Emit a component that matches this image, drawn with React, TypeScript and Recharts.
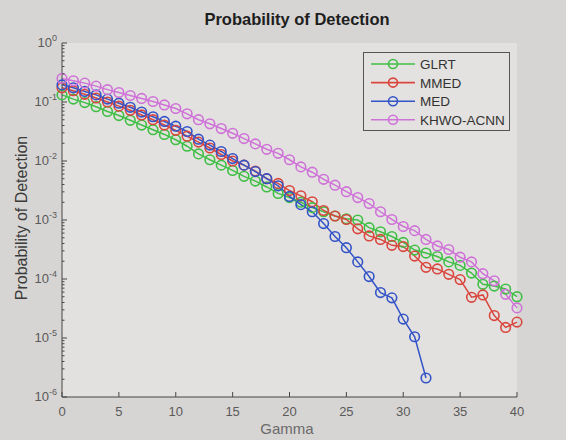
import React from 'react';
import { CartesianGrid, Legend, Line, LineChart, XAxis, YAxis } from 'recharts';

// gamma values 0..40
const gamma = [
  0, 1, 2, 3, 4, 5, 6, 7, 8, 9, 10, 11, 12, 13, 14, 15, 16, 17, 18, 19, 20,
  21, 22, 23, 24, 25, 26, 27, 28, 29, 30, 31, 32, 33, 34, 35, 36, 37, 38, 39, 40
];

const glrt = [
  0.132, 0.112, 0.0977, 0.0832, 0.0692, 0.0589, 0.049, 0.0407, 0.0339, 0.0282, 0.0229,
  0.0178, 0.0132, 0.0105, 0.00851, 0.00692, 0.0055, 0.00457, 0.00363, 0.00282, 0.0024,
  0.002, 0.00162, 0.00138, 0.00117, 0.00105, 0.001, 0.000741, 0.000631, 0.000525, 0.000417,
  0.000309, 0.000275, 0.00024, 0.000195, 0.00017, 0.000126, 0.0000813, 0.0000759, 0.0000676,
  0.0000501
];

const mmed = [
  0.174, 0.155, 0.135, 0.117, 0.1, 0.0851, 0.0724, 0.0603, 0.0501, 0.0407, 0.0331,
  0.0263, 0.0209, 0.0166, 0.0129, 0.01, 0.00851, 0.00676, 0.00501, 0.00417, 0.00316,
  0.00257, 0.00204, 0.00145, 0.00117, 0.00102, 0.000708, 0.000537, 0.000468, 0.000372,
  0.000355, 0.000245, 0.000158, 0.000148, 0.00012, 0.0000977, 0.000049, 0.0000537,
  0.000024, 0.0000151, 0.0000186
];

// MED stops at gamma = 32
const med = [
  0.195, 0.174, 0.151, 0.132, 0.112, 0.0955, 0.0813, 0.0676, 0.0562, 0.0468, 0.0389,
  0.0316, 0.0234, 0.0186, 0.0145, 0.011, 0.00851, 0.00661, 0.00501, 0.0038, 0.00251,
  0.00182, 0.00138, 0.00087, 0.000525, 0.000339, 0.000195, 0.00011, 0.0000589,
  0.0000479, 0.0000209, 0.0000105, 0.0000021
];

const khwo = [
  0.251, 0.229, 0.209, 0.186, 0.162, 0.145, 0.129, 0.115, 0.102, 0.0891, 0.0776,
  0.0631, 0.0501, 0.0427, 0.0355, 0.0295, 0.024, 0.0195, 0.0158, 0.0135, 0.0105,
  0.00794, 0.00646, 0.0049, 0.00389, 0.00302, 0.0024, 0.0019, 0.00138, 0.00102,
  0.000776, 0.00066, 0.000468, 0.000363, 0.000316, 0.000234, 0.000195, 0.000123,
  0.0000933, 0.000055, 0.0000324
];

const xTicks = [0, 5, 10, 15, 20, 25, 30, 35, 40];
const yTicks = [1e-6, 1e-5, 1e-4, 1e-3, 1e-2, 1e-1, 1];
const yTickExps = ['-6', '-5', '-4', '-3', '-2', '-1', '0'];

const series = [
  { key: 'glrt', name: 'GLRT', color: '#3fbf45' },
  { key: 'mmed', name: 'MMED', color: '#d9463d' },
  { key: 'med', name: 'MED', color: '#3354c8' },
  { key: 'khwo', name: 'KHWO-ACNN', color: '#cf72d8' }
];

const data = gamma.map((g, i) => ({
  gamma: g,
  glrt: glrt[i],
  mmed: mmed[i],
  med: i < med.length ? med[i] : null,
  khwo: khwo[i]
}));

// minor ticks 2..9 x 10^k for the log axis
const yAllTicks = yTicks.flatMap((t, i) =>
  i === yTicks.length - 1 ? [t] : [1, 2, 3, 4, 5, 6, 7, 8, 9].map((m) => t * m)
);

const AXIS = '#474747';
const LABEL = '#5a5a5a';
const FONT = '"Liberation Sans", Arial, sans-serif';

const majorIndex = (v: number) => yTicks.findIndex((t) => Math.abs(v - t) < t * 1e-6);

const XTickBottom = (props: any) => {
  const { x, y, payload } = props;
  return (
    <g>
      <line x1={x} x2={x} y1={y} y2={y - 5} stroke={AXIS} />
      <text x={x} y={y + 19} textAnchor="middle" fill={LABEL} fontSize={13} fontFamily={FONT}>
        {payload.value}
      </text>
    </g>
  );
};

const XTickTop = (props: any) => {
  const { x, y } = props;
  return <line x1={x} x2={x} y1={y} y2={y + 5} stroke={AXIS} />;
};

const YTickLeft = (props: any) => {
  const { x, y, payload } = props;
  const idx = majorIndex(payload.value);
  const major = idx >= 0;
  return (
    <g>
      <line x1={x} x2={x + (major ? 5 : 2.5)} y1={y} y2={y} stroke={AXIS} />
      {major && (
        <text x={x - 5} y={y + 4} textAnchor="end" fill={LABEL} fontSize={13} fontFamily={FONT}>
          <tspan>10</tspan>
          <tspan dy={-6} fontSize={9}>{yTickExps[idx]}</tspan>
        </text>
      )}
    </g>
  );
};

const YTickRight = (props: any) => {
  const { x, y, payload } = props;
  const major = majorIndex(payload.value) >= 0;
  return <line x1={x} x2={x - (major ? 5 : 2.5)} y1={y} y2={y} stroke={AXIS} />;
};

const LegendBox = () => (
  <svg width={147} height={79}>
    <rect x={0.5} y={0.5} width={146} height={78} fill="#e4e2e0" stroke="#555" />
    {series.map((s, i) => {
      const cy = 12 + i * 18.6;
      return (
        <g key={s.key}>
          <line x1={8} x2={52} y1={cy} y2={cy} stroke={s.color} strokeWidth={1.6} />
          <circle cx={30} cy={cy} r={4.5} fill="none" stroke={s.color} strokeWidth={1.6} />
          <text x={57} y={cy + 5} fill="#333" fontSize={13.5} fontFamily={FONT}>
            {s.name}
          </text>
        </g>
      );
    })}
  </svg>
);

export default function App() {
  return (
    <div
      style={{
        position: 'absolute',
        left: 0,
        top: 0,
        width: 566,
        height: 440,
        background: '#d7d5d3',
        fontFamily: FONT
      }}
    >
      <div
        style={{
          position: 'absolute',
          left: 0,
          width: 566,
          top: 10,
          textAlign: 'center',
          fontSize: 16.5,
          fontWeight: 'bold',
          color: '#1e1e1e',
          paddingLeft: 14
        }}
      >
        Probability of Detection
      </div>
      <div
        style={{
          position: 'absolute',
          left: 22,
          top: 218,
          transform: 'translate(-50%, -50%) rotate(-90deg)',
          whiteSpace: 'nowrap',
          fontSize: 16,
          color: '#3a3a3a'
        }}
      >
        Probability of Detection
      </div>
      <div
        style={{
          position: 'absolute',
          left: 287,
          top: 429,
          transform: 'translate(-50%, -50%)',
          fontSize: 15,
          lineHeight: '16px',
          color: '#6a6a6a'
        }}
      >
        Gamma
      </div>
      <LineChart
        width={566}
        height={440}
        data={data}
        margin={{ top: 43, right: 49, bottom: 13, left: 12 }}
      >
        <CartesianGrid fill="#e3e1df" stroke="none" horizontal={false} vertical={false} />
        <XAxis
          dataKey="gamma"
          type="number"
          domain={[0, 40]}
          ticks={xTicks}
          height={30}
          stroke={AXIS}
          tickLine={false}
          tickSize={0}
          tickMargin={0}
          tick={<XTickBottom />}
        />
        <XAxis
          xAxisId="top"
          orientation="top"
          dataKey="gamma"
          type="number"
          domain={[0, 40]}
          ticks={xTicks}
          height={0}
          stroke={AXIS}
          tickLine={false}
          tickSize={0}
          tickMargin={0}
          tick={<XTickTop />}
        />
        <YAxis
          scale="log"
          type="number"
          domain={[1e-6, 1]}
          allowDataOverflow
          ticks={yAllTicks}
          interval={0}
          width={50}
          stroke={AXIS}
          tickLine={false}
          tickSize={0}
          tickMargin={0}
          tick={<YTickLeft />}
        />
        <YAxis
          yAxisId="right"
          orientation="right"
          scale="log"
          type="number"
          domain={[1e-6, 1]}
          allowDataOverflow
          ticks={yAllTicks}
          interval={0}
          width={0}
          stroke={AXIS}
          tickLine={false}
          tickSize={0}
          tickMargin={0}
          tick={<YTickRight />}
        />
        <Legend
          layout="horizontal"
          verticalAlign="middle"
          align="center"
          content={<LegendBox />}
          wrapperStyle={{ left: 363, top: 52, width: 147, height: 79 }}
        />
        {series.map((s) => (
          <Line
            key={s.key}
            dataKey={s.key}
            name={s.name}
            stroke={s.color}
            strokeWidth={1.5}
            dot={{ r: 4.8, fill: 'none', stroke: s.color, strokeWidth: 1.6 }}
            isAnimationActive={false}
            connectNulls={false}
          />
        ))}
      </LineChart>
    </div>
  );
}
